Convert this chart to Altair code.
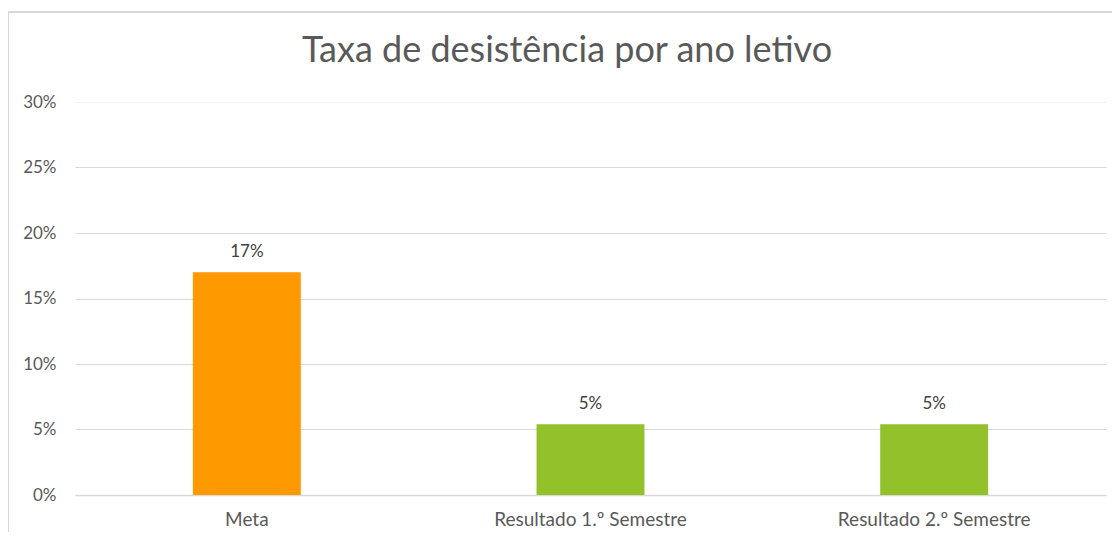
import altair as alt
import pandas as pd

categories = ["Meta", "Resultado 1.º Semestre", "Resultado 2.º Semestre"]
values = [0.17, 0.054, 0.054]
labels = ["17%", "5%", "5%"]
colors = ["#FF9900", "#92C12A", "#92C12A"]
title_text = "Taxa de desistência por ano letivo"

df = pd.DataFrame({"cat": categories, "val": values, "lab": labels, "col": colors})

FONT = "Lato"
W, H = 1031, 393

x = alt.X("cat:N", sort=categories, title=None,
          scale=alt.Scale(paddingInner=0.686, paddingOuter=0.343),
          axis=alt.Axis(labelAngle=0, labelFontSize=19, labelColor="#595959",
                        labelFont=FONT, ticks=False, domainColor="#d9d9d9",
                        domainWidth=1.5, labelPadding=15, labelLimit=0, grid=False))
y = alt.Y("val:Q", title=None,
          scale=alt.Scale(domain=[0, 0.30]),
          axis=alt.Axis(format=".0%", values=[0, 0.05, 0.10, 0.15, 0.20, 0.25, 0.30],
                        labelFontSize=17, labelColor="#595959", labelFont=FONT,
                        ticks=False, domain=False,
                        gridColor=alt.condition("datum.value >= 0.299",
                                                alt.value("#f3f3f3"), alt.value("#d9d9d9")),
                        gridWidth=1.2, labelPadding=19))

frame = alt.Chart(pd.DataFrame({"a": [0]})).mark_rect(
    fill=None, stroke="#d9d9d9", strokeWidth=2, clip=False
).encode(x=alt.value(-67), x2=alt.value(W + 40), y=alt.value(-90), y2=alt.value(H + 80))

title = alt.Chart(pd.DataFrame({"t": [title_text]})).mark_text(
    fontSize=36, font=FONT, color="#595959", align="center", baseline="middle"
).encode(x=alt.value(492), y=alt.value(-51), text="t:N")

bars = alt.Chart(df).mark_bar().encode(
    x=x, y=y, color=alt.Color("col:N", scale=None)
)
text = alt.Chart(df).mark_text(dy=-20, fontSize=17, color="#404040", font=FONT).encode(
    x=alt.X("cat:N", sort=categories), y="val:Q", text="lab:N"
)

chart = alt.layer(frame, title, bars, text).properties(
    width=W, height=H,
    background="white",
    padding={"left": 67, "top": 94, "right": 6, "bottom": 37},
    autosize=alt.AutoSizeParams(type="none"),
).configure_view(stroke="transparent", strokeWidth=0)

chart.save("out.html", embed_options={"renderer": "svg", "actions": False})
